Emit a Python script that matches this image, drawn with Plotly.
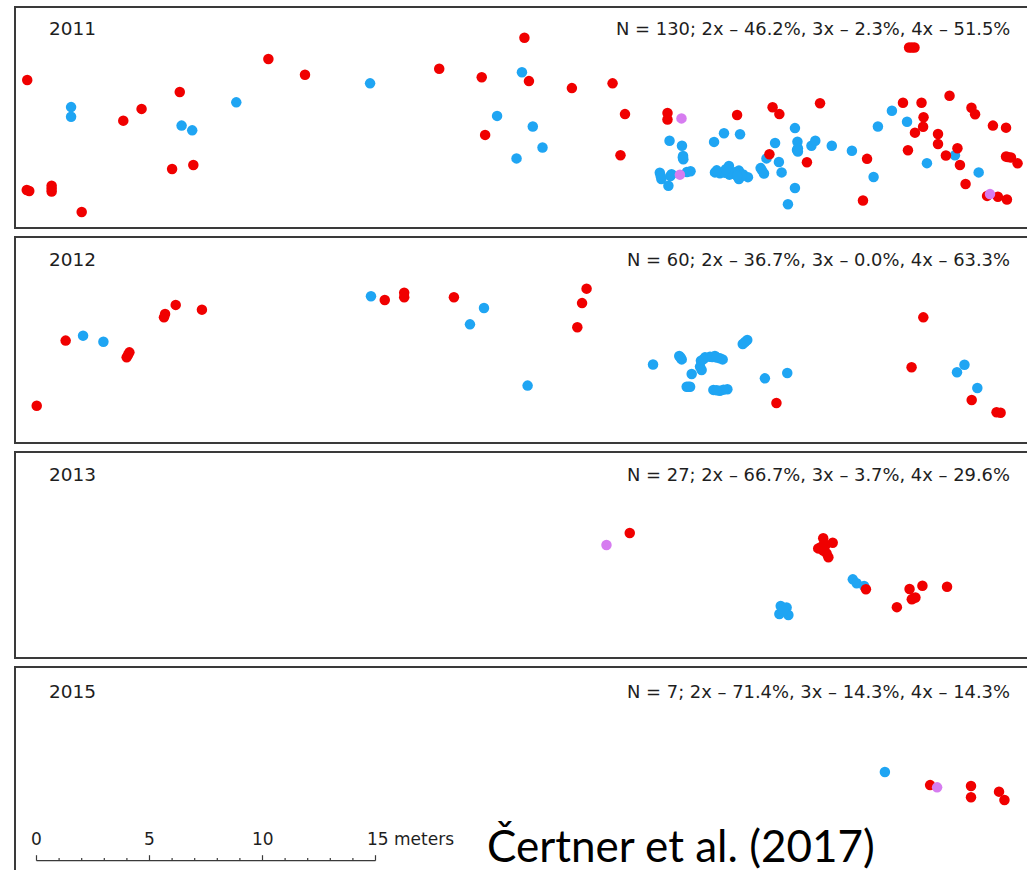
import plotly.graph_objects as go

# ---------------- data (metres along / across the transect) ----------------
years = ["2011", "2012", "2013", "2015"]
summaries = [
    "N = 130; 2x \u2013 46.2%, 3x \u2013 2.3%, 4x \u2013 51.5%",
    "N = 60; 2x \u2013 36.7%, 3x \u2013 0.0%, 4x \u2013 63.3%",
    "N = 27; 2x \u2013 66.7%, 3x \u2013 3.7%, 4x \u2013 29.6%",
    "N = 7; 2x \u2013 71.4%, 3x \u2013 14.3%, 4x \u2013 14.3%",
]

# 2011
x2011_2x = [-0.41, 10.26, 11.88, 17.82, 19.70, 6.34, 4.65, 3.84, 19.85, 6.00, 6.94, -0.43, -0.32,
            0.67, 0.67, 2.00, 21.59, 21.79, 23.69, 25.49, 26.04, 25.84, 27.92, 27.92, 31.00,
            32.57, 32.87, 34.67, 32.43, 34.09, 38.61, 38.85, 40.40, 38.34, 39.16, 39.25, 39.23,
            38.87, 41.37, 41.53, 42.32, 42.90, 39.89, 39.89, 38.56, 40.75, 40.24, 40.86, 36.75,
            41.11, 42.90, 43.12, 43.41, 36.57, 42.06, 42.54, 42.94, 38.73, 42.98, 0.67]
y2011_2x = [6.55, 7.48, 6.78, 7.05, 6.67, 6.02, 5.27, 4.75, 4.12, 2.61, 2.79, 1.68, 1.64,
            1.87, 1.61, 0.71, 8.42, 6.50, 6.19, 6.40, 5.04, 3.22, 5.09, 4.80, 5.00,
            5.34, 5.04, 5.52, 3.26, 2.91, 7.99, 7.99, 5.85, 5.54, 5.54, 4.90, 4.48,
            4.22, 5.32, 5.03, 4.53, 4.44, 4.16, 3.72, 3.44, 3.53, 3.21, 2.79, 3.06,
            1.95, 3.16, 3.12, 2.86, 1.22, 1.42, 1.38, 1.26, 7.99, 3.14, 1.74]
x2011_3x = [28.54, 28.47, 42.19]
y2011_3x = [4.85, 2.36, 1.50]
x2011_4x = [1.53, 1.53, 6.42, 6.89, 8.84, 14.76, 20.38, 21.24, 21.48, 21.96, 22.39, 28.01, 28.56,
            28.61, 28.62, 27.58, 27.65, 27.96, 28.10, 28.78, 28.94, 29.98, 30.42, 31.13, 30.02,
            30.24, 30.64, 30.66, 30.95, 31.08, 31.08, 31.27, 31.48, 32.04, 32.19, 32.30, 32.68,
            32.85, 32.97, 33.56, 33.67, 33.69, 33.69, 33.56, 33.25, 34.29, 34.46, 35.19, 36.08,
            37.04, 37.23, 37.85, 38.52, 39.40, 40.64, 41.69, 30.45, 30.80, 31.20, 28.05, 27.62,
            32.10, 30.10, 31.00, 33.65, 28.60, 30.50]
y2011_4x = [5.35, 4.92, 4.53, 4.32, 5.56, 6.40, 4.96, 3.08, 6.89, 4.49, 3.56, 3.86, 3.64,
            3.19, 3.04, 2.45, 2.17, 1.87, 2.38, 2.48, 2.51, 3.81, 4.19, 4.15, 2.46,
            2.42, 2.74, 2.36, 2.48, 2.54, 2.17, 2.37, 2.25, 2.65, 2.41, 3.08, 3.76,
            2.92, 2.46, 4.42, 3.82, 3.53, 3.38, 1.77, 1.05, 3.64, 3.86, 3.64, 3.42,
            2.26, 4.49, 5.19, 4.70, 2.87, 3.22, 2.46, 2.45, 2.40, 2.30, 2.30, 2.30,
            2.55, 2.55, 2.30, 3.45, 3.12, 2.60]

# 2012
x2012_2x = [0.01, 1.29, 3.99, 4.11, 5.64, 5.69, 6.16, 7.32, 15.41, 16.27, 16.27, 18.47, 24.34,
            24.14, 23.93, 32.74, 39.24, 38.72, 41.38, 42.48, 42.66, 4.05]
y2012_2x = [1.65, 4.53, 3.79, 4.01, 5.56, 5.71, 6.11, 5.90, 6.33, 6.65, 6.45, 6.45, 6.83,
            6.19, 5.12, 1.77, 5.56, 3.35, 1.90, 1.36, 1.34, 3.90]
x2012_3x = []
y2012_3x = []
x2012_4x = [2.06, 2.96, 14.80, 19.18, 19.80, 21.73, 27.28, 28.44, 28.55, 29.40, 29.58, 29.80,
            30.02, 30.24, 30.36, 29.36, 29.43, 28.99, 28.77, 28.92, 29.95, 30.24, 30.57, 31.25,
            31.45, 32.23, 33.22, 41.06, 40.73, 41.63, 29.50, 29.90, 30.10, 28.50, 30.40, 30.10,
            31.35, 28.85]
y2012_4x = [4.75, 4.48, 6.49, 5.25, 5.97, 2.54, 3.47, 3.85, 3.70, 3.64, 3.79, 3.82,
            3.85, 3.75, 3.70, 3.38, 3.23, 3.05, 2.49, 2.49, 2.35, 2.31, 2.38, 4.38,
            4.56, 2.86, 3.10, 3.46, 3.13, 2.43, 3.70, 3.80, 3.78, 3.78, 2.36, 2.33,
            4.47, 2.49]

# 2013
x2013_2x = [26.25, 34.81, 35.23, 34.59, 34.81, 34.96, 35.04, 34.89, 36.70, 38.63, 39.20, 38.89,
            38.73, 38.07, 40.29, 34.85, 34.70, 38.80]
y2013_2x = [5.53, 5.30, 5.10, 4.85, 4.75, 4.63, 4.46, 4.96, 3.04, 3.05, 3.20, 2.68,
            2.60, 2.25, 3.15, 5.05, 4.90, 2.64]
x2013_3x = [25.22]
y2013_3x = [5.00]
x2013_4x = [36.12, 36.29, 36.62, 32.93, 33.19, 32.87, 33.27, 33.04]
y2013_4x = [3.48, 3.31, 3.19, 2.30, 2.24, 1.95, 1.90, 2.09]

# 2015
x2015_2x = [39.54, 41.35, 41.35, 42.59, 42.83]
y2015_2x = [3.89, 3.85, 3.35, 3.60, 3.23]
x2015_3x = [39.85]
y2015_3x = [3.79]
x2015_4x = [37.54]
y2015_4x = [4.47]

scale_ticks_major = [0, 5, 10, 15]
scale_labels = ["0", "5", "10", "15 meters"]
citation = "\u010certner et al. (2017)"

panels = [
    (x2011_2x, y2011_2x, x2011_3x, y2011_3x, x2011_4x, y2011_4x),
    (x2012_2x, y2012_2x, x2012_3x, y2012_3x, x2012_4x, y2012_4x),
    (x2013_2x, y2013_2x, x2013_3x, y2013_3x, x2013_4x, y2013_4x),
    (x2015_2x, y2015_2x, x2015_3x, y2015_3x, x2015_4x, y2015_4x),
]

# ---------------- styling / layout ----------------
W, H = 1027, 870
PXM = 22.6          # pixels per metre
X0 = 36.5           # pixel position of 0 m
LEFT = 15
tops = [7, 237, 452, 667]
bottoms = [228, 443, 658, 873]
label_y = [28.5, 259.5, 474.5, 691]

RED = "#F00000"
BLUE = "#1FA5F3"
PURPLE = "#D67CF0"
EDGE = "#3a3a3a"
TXT = "#1e1e1e"
FONT = "DejaVu Sans"

fig = go.Figure()
for k, (x2, y2, x3, y3, x4, y4) in enumerate(panels, start=1):
    xa = "x" if k == 1 else f"x{k}"
    ya = "y" if k == 1 else f"y{k}"
    for xs, ys, col in ((x4, y4, BLUE), (x2, y2, RED), (x3, y3, PURPLE)):
        fig.add_trace(go.Scatter(x=xs, y=ys, mode="markers", xaxis=xa, yaxis=ya,
                                 marker=dict(size=10.5, color=col, line=dict(width=0)),
                                 showlegend=False, hoverinfo="skip"))

layout = dict(width=W, height=H, margin=dict(l=0, r=0, t=0, b=0),
              paper_bgcolor="white", plot_bgcolor="rgba(0,0,0,0)", showlegend=False)
xr = [(LEFT - X0) / PXM, (W - X0) / PXM]
for k in range(1, 5):
    t, b = tops[k - 1], bottoms[k - 1]
    vis_b = min(b, H)
    sfx = "" if k == 1 else str(k)
    layout["xaxis" + sfx] = dict(domain=[LEFT / W, 1], range=xr, visible=False,
                                 anchor="y" + sfx, fixedrange=True)
    layout["yaxis" + sfx] = dict(domain=[1 - vis_b / H, 1 - t / H],
                                 range=[(b - vis_b) / PXM, (b - t) / PXM], visible=False,
                                 anchor="x" + sfx, fixedrange=True)
fig.update_layout(**layout)

shapes = []
for t, b in zip(tops, bottoms):
    shapes.append(dict(type="rect", xref="paper", yref="paper",
                       x0=LEFT / W, x1=1.02, y0=1 - b / H, y1=1 - t / H,
                       line=dict(color=EDGE, width=2), fillcolor="rgba(0,0,0,0)"))

# scale bar (in metres on the bottom panel)
base_y = 1 - 860.7 / H
shapes.append(dict(type="line", xref="x4", yref="paper", x0=0, x1=15, y0=base_y, y1=base_y,
                   line=dict(color=EDGE, width=1.3)))
for m in range(0, 16):
    h = 5.5 if m in scale_ticks_major else 2.8
    shapes.append(dict(type="line", xref="x4", yref="paper", x0=m, x1=m,
                       y0=base_y, y1=base_y + h / H, line=dict(color=EDGE, width=1.2)))

annotations = []
for k in range(4):
    yy = 1 - label_y[k] / H
    annotations.append(dict(text=years[k], xref="paper", yref="paper", x=47 / W, y=yy,
                            xanchor="left", yanchor="middle", showarrow=False,
                            font=dict(family=FONT, size=18.5, color=TXT)))
    annotations.append(dict(text=summaries[k], xref="paper", yref="paper", x=1012 / W, y=yy,
                            xanchor="right", yanchor="middle", showarrow=False,
                            font=dict(family=FONT, size=17.9, color=TXT)))
for m, lab in zip(scale_ticks_major, scale_labels):
    if lab.endswith("meters"):
        annotations.append(dict(text=lab, xref="x4", yref="paper", x=m, y=1 - 839 / H,
                                xanchor="left", yanchor="middle", xshift=-11, showarrow=False,
                                font=dict(family=FONT, size=17, color=TXT)))
    else:
        annotations.append(dict(text=lab, xref="x4", yref="paper", x=m, y=1 - 839 / H,
                                xanchor="center", yanchor="middle", showarrow=False,
                                font=dict(family=FONT, size=17, color=TXT)))
annotations.append(dict(text=citation, xref="paper", yref="paper", x=485 / W, y=1 - 845 / H,
                        xanchor="left", yanchor="middle", showarrow=False,
                        font=dict(family="Lato", size=44, color="black")))

fig.update_layout(shapes=shapes, annotations=annotations)
fig.write_html("out.html")
